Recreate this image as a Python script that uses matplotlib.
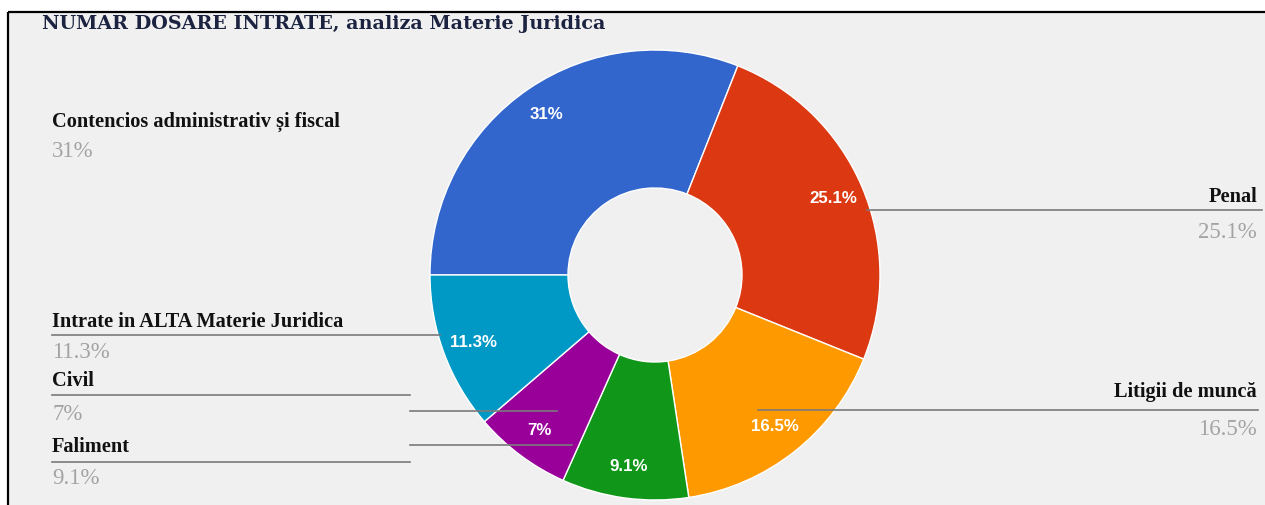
import matplotlib
matplotlib.use('Agg')
import matplotlib.pyplot as plt
import numpy as np

# ---- data ----
categories = ['Contencios administrativ și fiscal', 'Penal', 'Litigii de muncă',
              'Faliment', 'Civil', 'Intrate in ALTA Materie Juridica']
values = [31.0, 25.1, 16.5, 9.1, 7.0, 11.3]
pct_labels = ['31%', '25.1%', '16.5%', '9.1%', '7%', '11.3%']
colors = ['#3366cc', '#dc3912', '#ff9900', '#109618', '#990099', '#0099c6']
title = 'NUMAR DOSARE INTRATE, analiza Materie Juridica'

W, H = 1265, 505
fig = plt.figure(figsize=(W / 100, H / 100), dpi=100)
fig.patch.set_facecolor('white')
ax = fig.add_axes([0, 0, 1, 1])

# chart area background and borders
ax.add_patch(plt.Rectangle((7.5, 11.5), W, H, facecolor='#f0f0f0', edgecolor='none', zorder=0))
ax.plot([7.5, 7.5], [11.5, H], color='black', lw=1.6, zorder=1, solid_capstyle='butt')
ax.plot([7.5, W], [11.5, 11.5], color='black', lw=1.6, zorder=1, solid_capstyle='butt')

cx, cy, R, r_in = 655, 275, 225, 87
wedges, _ = ax.pie(values, colors=colors, startangle=180, counterclock=True,
                   radius=R, center=(cx, cy), frame=True,
                   wedgeprops=dict(width=R - r_in, edgecolor='white', linewidth=1))

ax.set_xlim(0, W)
ax.set_ylim(H, 0)
ax.set_aspect('equal', adjustable='box')
ax.set_axis_off()

renderer = fig.canvas.get_renderer()


def fit(t, target_w):
    bb = t.get_window_extent(renderer)
    t.set_fontsize(t.get_fontsize() * target_w / bb.width)
    return t.get_fontsize()


# inner percentage labels
probe = ax.text(0, 0, '25.1%', fontsize=10, family='Liberation Sans', weight='bold')
inner_fs = fit(probe, 48)
probe.remove()
for w, lab in zip(wedges, pct_labels):
    th = np.deg2rad((w.theta1 + w.theta2) / 2)
    rr = 0.86 * R
    ax.text(cx + rr * np.cos(th), cy + rr * np.sin(th), lab, color='white',
            fontsize=inner_fs, family='Liberation Sans', weight='bold',
            ha='center', va='center', zorder=5)

# title
tt = ax.text(42, 29, title, fontsize=10, family='DejaVu Serif', weight='bold',
             color='#1c2340', ha='left', va='baseline')
fit(tt, 566)

# outside labels
probe = ax.text(0, 0, categories[0], fontsize=10, family='Liberation Serif', weight='bold')
lab_fs = fit(probe, 288)
probe.remove()
probe = ax.text(0, 0, '25.1%', fontsize=10, family='Liberation Serif')
pct_fs = fit(probe, 59)
probe.remove()

# (x, name baseline, pct baseline, ha) per category
label_layout = [
    (52, 127, 157, 'left'),
    (1257, 202, 238, 'right'),
    (1257, 397, 435, 'right'),
    (52, 452, 484, 'left'),
    (52, 386, 420, 'left'),
    (52, 327, 358, 'left'),
]
for name, lab, (x, yb, yp, ha) in zip(categories, pct_labels, label_layout):
    ax.text(x, yb, name, fontsize=lab_fs, family='Liberation Serif', weight='bold',
            color='#111111', ha=ha, va='baseline', zorder=6)
    ax.text(x, yp, lab, fontsize=pct_fs, family='Liberation Serif',
            color='#a3a3a3', ha=ha, va='baseline', zorder=6)

# leader lines
leaders = [
    [(867, 210), (1262, 210)],
    [(758, 410), (1258, 410)],
    [(52, 335), (440, 335)],
    [(52, 395), (410, 395)],
    [(410, 411), (557, 411)],
    [(52, 462), (410, 462)],
    [(410, 445), (572, 445)],
]
for seg in leaders:
    xs, ys = zip(*seg)
    ax.plot(xs, ys, color='#7a7a7a', lw=1.2, zorder=4)

fig.savefig('out.png', dpi=100, facecolor=fig.get_facecolor())
